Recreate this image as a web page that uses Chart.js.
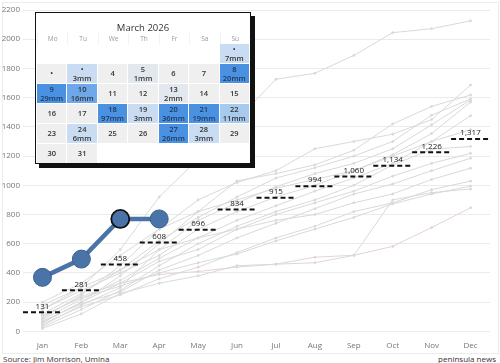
<!DOCTYPE html>
<html>
<head>
<meta charset="utf-8">
<script src="https://cdn.jsdelivr.net/npm/chart.js@4.4.1/dist/chart.umd.min.js"></script>
<style>
  body { margin: 0; background: #fff; font-family: "Open Sans", sans-serif; }
  #wrap { position: absolute; left: 0; top: 0; width: 500px; height: 363px; overflow: hidden; }
  #frame { position: absolute; left: 2px; top: 2px; width: 495px; height: 350px; border: 1px solid #ececec; }
  #chartBox { position: absolute; left: 0; top: 0; width: 500px; height: 353px; }
  #cal { position: absolute; left: 35px; top: 12px; width: 214px; height: 150px; background: #fff;
         border: 1.5px solid #111; box-shadow: 4px 4px 0 #111; }
  #cal .title { position: absolute; left: 0; top: 8px; width: 100%; text-align: center; font-size: 9.5px; color: #333; }
  #cal .grid { position: absolute; left: 1px; top: 20px; width: 213px; display: grid;
               grid-template-columns: repeat(7, 1fr); grid-template-rows: 11px repeat(6, 20px); gap: 0; }
  #cal .hd { font-size: 6.5px; color: #999; text-align: center; line-height: 11px; border-left: 1px solid #f2f2f2; }
  #cal .c { margin: 0 1px 1px 0; display: flex; flex-direction: column; justify-content: center; align-items: center;
            font-size: 7.5px; line-height: 9px; color: #333; font-weight: 600; }
  #src { position: absolute; left: 3px; top: 353px; font-size: 8px; color: #333; }
  #brand { position: absolute; right: 4px; top: 353px; font-size: 8px; color: #333; }
</style>
</head>
<body>
<div id="wrap">
  <div id="frame"></div>
  <div id="chartBox"><canvas id="rainChart" width="500" height="353"></canvas></div>
  <div id="cal"><div class="title">March 2026</div><div class="grid" id="calGrid"></div></div>
  <div id="src">Source: Jim Morrison, Umina</div>
  <div id="brand">peninsula news</div>
</div>
<script>
const months = ['Jan','Feb','Mar','Apr','May','Jun','Jul','Aug','Sep','Oct','Nov','Dec']

// cumulative rainfall 2026 (mm)
const thisYear = [370, 495, 770, 770]

// long-term average cumulative (mm)
const average = [131, 281, 458, 608, 696, 834, 915, 994, 1060, 1134, 1226, 1317]

// previous years cumulative (mm)
const pastYears = [
  [150, 300, 560, 920, 1180, 1450, 1726, 1767, 1889, 2045, 2072, 2126],
  [90, 250, 450, 700, 900, 1020, 1100, 1250, 1300, 1350, 1450, 1686],
  [60, 200, 380, 600, 820, 1030, 1080, 1140, 1240, 1420, 1540, 1618],
  [120, 260, 420, 620, 780, 920, 1050, 1120, 1200, 1300, 1480, 1591],
  [40, 180, 300, 560, 760, 880, 990, 1080, 1150, 1250, 1415, 1584],
  [200, 330, 520, 700, 820, 900, 980, 1040, 1100, 1210, 1354, 1570],
  [80, 220, 350, 500, 640, 760, 860, 960, 1050, 1150, 1300, 1476],
  [150, 280, 400, 520, 700, 820, 920, 1000, 1100, 1200, 1300, 1381],
  [30, 150, 280, 450, 600, 720, 820, 900, 1000, 1140, 1246, 1266],
  [100, 240, 330, 480, 560, 700, 800, 880, 960, 1063, 1150, 1219],
  [70, 190, 270, 420, 520, 640, 740, 840, 940, 1009, 1100, 1185],
  [180, 300, 420, 560, 640, 700, 760, 800, 880, 941, 1040, 1117],
  [50, 170, 250, 360, 440, 540, 640, 720, 820, 880, 970, 1029],
  [110, 230, 310, 400, 470, 530, 620, 700, 780, 873, 940, 995],
  [20, 120, 260, 330, 380, 450, 460, 470, 520, 900, 950, 975],
  [60, 200, 330, 390, 410, 440, 460, 508, 521, 582, 711, 846]
]

// March 2026 calendar: day label and rain (mm), Monday first
const calDays = ['Mo','Tu','We','Th','Fr','Sa','Su']
const calLabels = [
  '', '', '', '', '', '', '•',
  '•', '•', '4', '5', '6', '7', '8',
  '9', '10', '11', '12', '13', '14', '15',
  '16', '17', '18', '19', '20', '21', '22',
  '23', '24', '25', '26', '27', '28', '29',
  '30', '31', '', '', '', '', ''
]
const calRain = [
  null, null, null, null, null, null, 7,
  0, 3, 0, 1, 0, 0, 20,
  29, 16, 0, 0, 2, 0, 0,
  0, 0, 97, 3, 36, 19, 11,
  0, 6, 0, 0, 26, 3, 0,
  0, 0, null, null, null, null, null
]

function rainColor(mm) {
  if (mm === null) return '#ffffff'
  if (mm === 0) return '#efefef'
  if (mm < 3) return '#e3e8ee'
  if (mm < 10) return '#cadcf1'
  if (mm < 14) return '#a8caef'
  if (mm < 18) return '#6ea8ea'
  return '#4b91e2'
}

const calGrid = document.getElementById('calGrid')
calDays.forEach(d => {
  const h = document.createElement('div')
  h.className = 'hd'
  h.textContent = d
  calGrid.appendChild(h)
})
calLabels.forEach((lab, i) => {
  const c = document.createElement('div')
  c.className = 'c'
  c.style.background = rainColor(calRain[i])
  const mm = calRain[i]
  const a = document.createElement('div')
  a.textContent = lab
  c.appendChild(a)
  if (mm) {
    const b = document.createElement('div')
    b.textContent = mm + 'mm'
    c.appendChild(b)
  }
  if (mm >= 18) c.style.color = '#1d3557'
  calGrid.appendChild(c)
})

const toXY = arr => arr.map((v, i) => ({ x: i, y: v }))

const datasets = []
pastYears.forEach((yr, k) => {
  const col = k === pastYears.length - 1 ? '#e4d3d4' : '#d9d9d9'
  datasets.push({
    data: toXY(yr),
    borderColor: col,
    backgroundColor: col,
    borderWidth: 1,
    pointRadius: 1,
    pointHoverRadius: 1,
    order: 3
  })
})
average.forEach((v, i) => {
  datasets.push({
    data: [{ x: i - 0.5, y: v }, { x: i + 0.5, y: v }],
    borderColor: '#111',
    borderWidth: 2,
    borderDash: [5, 3],
    pointRadius: 0,
    order: 2
  })
})
datasets.push({
  data: toXY(thisYear),
  borderColor: '#4a74a8',
  backgroundColor: '#4a74a8',
  borderWidth: 4.5,
  pointRadius: 9,
  pointBorderWidth: [1, 1, 1.8, 1],
  pointBorderColor: ['#3b6190', '#3b6190', '#111', '#3b6190'],
  order: 1
})

const avgLabels = {
  id: 'avgLabels',
  afterDatasetsDraw(chart) {
    const ctx = chart.ctx
    const xs = chart.scales.x, ys = chart.scales.y
    ctx.save()
    ctx.font = '8px "Open Sans", sans-serif'
    ctx.fillStyle = '#222'
    ctx.textAlign = 'center'
    ctx.textBaseline = 'bottom'
    average.forEach((v, i) => {
      ctx.fillText(v.toLocaleString('en-US'), xs.getPixelForValue(i), ys.getPixelForValue(v) - 2)
    })
    ctx.restore()
  }
}

const ctx = document.getElementById('rainChart').getContext('2d')
const rainChart = new Chart(ctx, {
  type: 'line',
  data: { datasets: datasets },
  plugins: [avgLabels],
  options: {
    responsive: false,
    animation: false,
    layout: { padding: { top: 6, right: 4, left: 0, bottom: 0 } },
    plugins: { legend: { display: false }, tooltip: { enabled: false } },
    scales: {
      x: {
        type: 'linear',
        min: -0.5,
        max: 11.5,
        afterBuildTicks: s => { s.ticks = months.map((m, i) => ({ value: i })) },
        ticks: {
          callback: v => months[v],
          font: { size: 8, family: 'Open Sans' },
          color: '#777',
          padding: 2,
          maxRotation: 0
        },
        grid: { display: false },
        border: { display: false }
      },
      y: {
        min: 0,
        max: 2200,
        afterFit: s => { s.width = 23 },
        ticks: {
          stepSize: 200,
          callback: v => String(v),
          font: { size: 8, family: 'Open Sans' },
          color: '#777',
          padding: 3
        },
        grid: { color: '#ebebeb', lineWidth: 1, drawTicks: false },
        border: { display: false }
      }
    }
  }
})
</script>
</body>
</html>
